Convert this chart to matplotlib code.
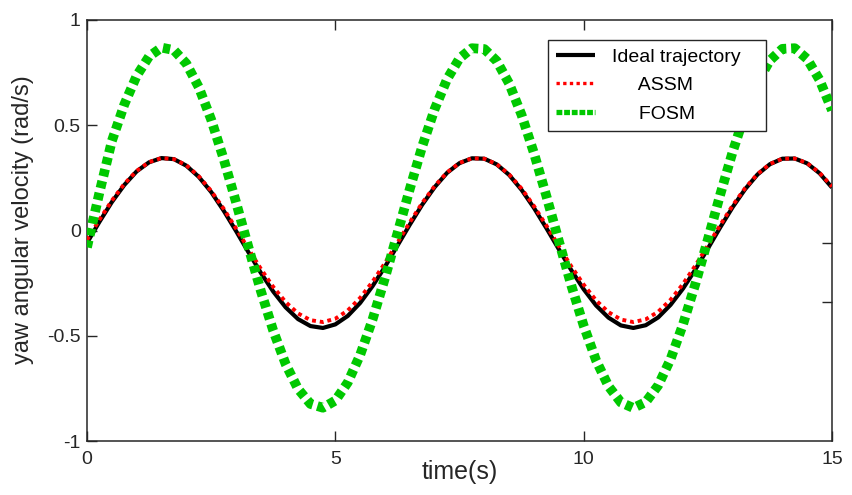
import numpy as np
import matplotlib
matplotlib.use("Agg")
import matplotlib.pyplot as plt
from matplotlib.lines import Line2D

plt.rcParams['font.family'] = ['Liberation Sans', 'DejaVu Sans']

# ---- data ----
time_s = np.linspace(0, 15, 61)

ideal = [-0.059, 0.041, 0.135, 0.216, 0.281, 0.324, 0.344, 0.339, 0.308, 0.255,
         0.183, 0.095, -0.002, -0.103, -0.201, -0.290, -0.365, -0.421, -0.454, -0.463,
         -0.446, -0.406, -0.344, -0.264, -0.172, -0.072, 0.028, 0.123, 0.206, 0.274,
         0.320, 0.343, 0.341, 0.314, 0.264, 0.193, 0.107, 0.011, -0.089, -0.188,
         -0.279, -0.356, -0.414, -0.451, -0.463, -0.450, -0.413, -0.353, -0.276, -0.185,
         -0.086, 0.015, 0.111, 0.196, 0.266, 0.315, 0.341, 0.342, 0.319, 0.272,
         0.204]

assm = [-0.045, 0.051, 0.142, 0.221, 0.283, 0.325, 0.344, 0.339, 0.310, 0.258,
        0.188, 0.104, 0.010, -0.087, -0.182, -0.268, -0.340, -0.394, -0.426, -0.435,
        -0.419, -0.380, -0.320, -0.243, -0.154, -0.058, 0.039, 0.131, 0.211, 0.276,
        0.321, 0.343, 0.341, 0.315, 0.266, 0.199, 0.116, 0.023, -0.074, -0.170,
        -0.257, -0.332, -0.388, -0.423, -0.435, -0.422, -0.386, -0.329, -0.254, -0.166,
        -0.071, 0.026, 0.119, 0.201, 0.268, 0.316, 0.341, 0.342, 0.320, 0.274,
        0.209]

fosm = [-0.080, 0.180, 0.425, 0.598, 0.735, 0.827, 0.869, 0.857, 0.793, 0.681,
        0.527, 0.341, 0.135, -0.079, -0.287, -0.476, -0.635, -0.753, -0.824, -0.842,
        -0.808, -0.722, -0.591, -0.422, -0.225, -0.014, 0.198, 0.400, 0.577, 0.719,
        0.818, 0.866, 0.862, 0.805, 0.698, 0.549, 0.367, 0.163, -0.050, -0.260,
        -0.452, -0.617, -0.740, -0.817, -0.843, -0.815, -0.736, -0.611, -0.446, -0.253,
        -0.043, 0.171, 0.374, 0.555, 0.703, 0.808, 0.863, 0.866, 0.815, 0.715,
        0.571]

labels = ['Ideal trajectory', '     ASSM', '     FOSM']
x_ticks = [0, 5, 10, 15]
y_ticks = [-1, -0.5, 0, 0.5, 1]
y_tick_labels = ['-1', '-0.5', '0', '0.5', '1']

# ---- figure ----
W, H = 853, 495
fig = plt.figure(figsize=(W / 100, H / 100), dpi=100)
ax = fig.add_axes([87 / W, 54 / H, 745 / W, 421 / H])

dark = '#262626'
green = '#00c800'

ax.plot(time_s, ideal, color='black', lw=3.0, solid_capstyle='butt', zorder=2)
ax.plot(time_s, assm, color='red', lw=2.8, linestyle=(0, (1.0, 1.0)),
        dash_capstyle='butt', zorder=3)
ax.plot(time_s, fosm, color=green, lw=7.0, linestyle=(0, (0.75, 0.5)),
        dash_capstyle='butt', zorder=4)

ax.set_xlim(0, 15)
ax.set_ylim(-1, 1)
ax.set_xticks(x_ticks)
ax.set_yticks(y_ticks)
ax.set_yticklabels(y_tick_labels)

for s in ax.spines.values():
    s.set_color(dark)
    s.set_linewidth(1.1)

ax.tick_params(axis='both', direction='in', length=7, width=1.0, color=dark,
               labelcolor=dark, labelsize=14)
ax.tick_params(axis='x', top=True, pad=7)
ax.tick_params(axis='y', right=False, pad=4.5)

sec = ax.secondary_yaxis('right')
sec.set_yticks([-0.06, -0.34])
sec.set_yticklabels(['', ''])
sec.tick_params(direction='in', length=7, width=1.0, color=dark)
sec.spines['right'].set_visible(False)

ax.set_xlabel('time(s)', fontsize=18, color=dark, va='top')
ax.xaxis.set_label_coords(0.5, -0.045)
ax.set_ylabel('yaw angular velocity (rad/s)', fontsize=17, color=dark)
ax.yaxis.set_label_coords(-0.071, 0.525)

handles = [
    Line2D([], [], color='black', lw=3.0, solid_capstyle='butt'),
    Line2D([], [], color='red', lw=2.4, linestyle=(0, (1.0, 1.0)), dash_capstyle='butt'),
    Line2D([], [], color=green, lw=3.8, linestyle=(0, (1.1, 0.35)), dash_capstyle='butt'),
]
leg = ax.legend(handles, labels, loc='upper left',
                bbox_to_anchor=(0.619, 0.952, 0.2926, 0.0),
                mode='expand', fontsize=14, handlelength=2.0, handletextpad=0.85,
                labelspacing=0.55, borderpad=0.42, borderaxespad=0.0,
                frameon=True, fancybox=False, framealpha=1.0)
leg.get_frame().set_edgecolor(dark)
leg.get_frame().set_linewidth(1.0)
for txt in leg.get_texts():
    txt.set_color('black')

fig.savefig('out.png', dpi=100)
